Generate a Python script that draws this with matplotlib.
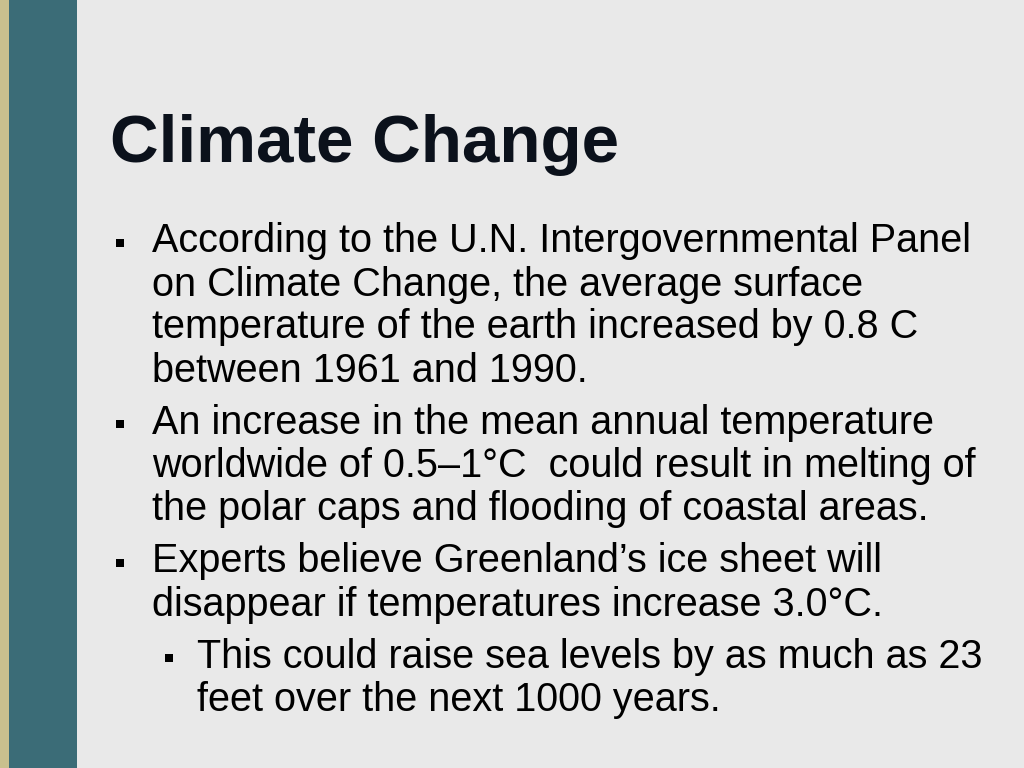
import matplotlib
matplotlib.use('Agg')
from matplotlib import pyplot as plt
from matplotlib.patches import Rectangle

W, H = 1024, 768

title = 'Climate Change'

bullet_1 = ['According to the U.N. Intergovernmental Panel',
            'on Climate Change, the average surface',
            'temperature of the earth increased by 0.8 C',
            'between 1961 and 1990.']
bullet_2 = ['An increase in the mean annual temperature',
            'worldwide of 0.5\u20131\u00b0C  could result in melting of',
            'the polar caps and flooding of coastal areas.']
bullet_3 = ['Experts believe Greenland\u2019s ice sheet will',
            'disappear if temperatures increase 3.0\u00b0C.']
sub_bullet = ['This could raise sea levels by as much as 23',
              'feet over the next 1000 years.']
# (indent level, lines)
bullets = [(0, bullet_1), (0, bullet_2), (0, bullet_3), (1, sub_bullet)]

plt.rcParams['font.family'] = ['Liberation Sans', 'DejaVu Sans']

fig = plt.figure(figsize=(W / 100, H / 100), dpi=100)
fig.patch.set_facecolor('#e9e9e9')
ax = fig.add_axes([0, 0, 1, 1])
ax.set_xlim(0, W)
ax.set_ylim(H, 0)
ax.axis('off')

# left decoration bars
ax.add_patch(Rectangle((0, 0), 9, H, color='#c9c08e', lw=0))
ax.add_patch(Rectangle((9, 0), 68, H, color='#3b6c77', lw=0))

ax.text(110, 162, title, fontsize=48.5, fontweight='bold', color='#0b111b', va='baseline')

line_gap = 43
para_gap = 52.5
y = 252.5
for level, lines in bullets:
    bx = 120 if level == 0 else 169
    tx = 152 if level == 0 else 197
    ax.add_patch(Rectangle((bx - 4, y - 14), 8, 8, color='black', lw=0))
    for i, line in enumerate(lines):
        ax.text(tx, y + i * line_gap, line, fontsize=28.5, color='black', va='baseline')
    y += (len(lines) - 1) * line_gap + para_gap

fig.savefig('out.png', dpi=100, facecolor=fig.get_facecolor())
